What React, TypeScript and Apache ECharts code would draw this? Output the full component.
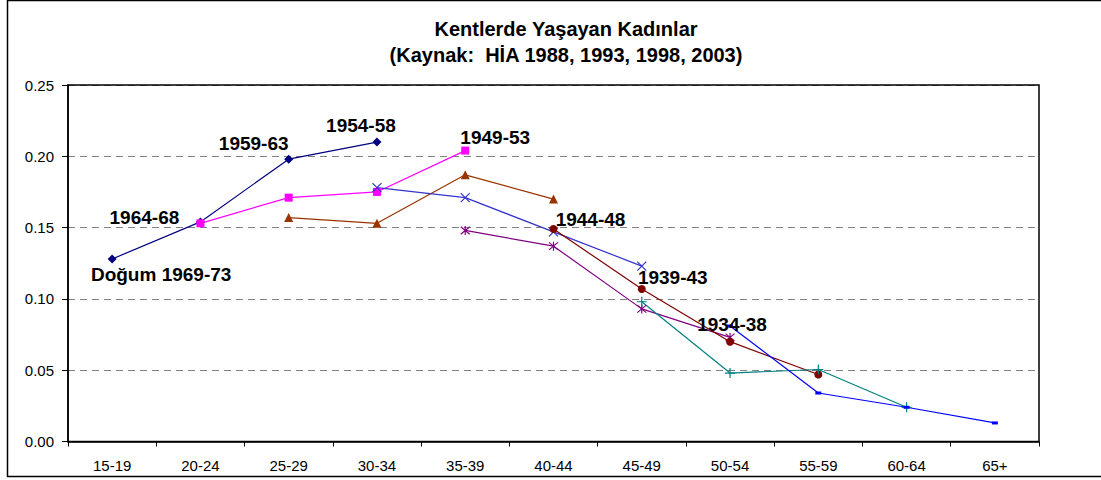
import React, { useEffect, useRef } from "react";
import * as echarts from "echarts";

const categories = ["15-19", "20-24", "25-29", "30-34", "35-39", "40-44", "45-49", "50-54", "55-59", "60-64", "65+"];
const yTicks = [0, 0.05, 0.1, 0.15, 0.2, 0.25];

const s1 = [0.128, 0.154, 0.198, 0.21, null, null, null, null, null, null, null];
const s2 = [null, 0.153, 0.171, 0.175, 0.204, null, null, null, null, null, null];
const s3 = [null, null, 0.157, 0.153, 0.187, 0.17, null, null, null, null, null];
const s4 = [null, null, null, 0.178, 0.171, 0.147, 0.123, null, null, null, null];
const s5 = [null, null, null, null, 0.148, 0.137, 0.093, 0.073, null, null, null];
const s6 = [null, null, null, null, null, 0.149, 0.107, 0.07, 0.047, null, null];
const s7 = [null, null, null, null, null, null, 0.098, 0.048, 0.0505, 0.024, null];
const s8 = [null, null, null, null, null, null, null, 0.081, 0.034, 0.024, 0.013];

// cohort labels: [series index, category index, text]
const cohortLabels: [number, number, string][] = [
  [0, 0, "Doğum 1969-73"],
  [0, 1, "1964-68"],
  [0, 2, "1959-63"],
  [0, 3, "1954-58"],
  [1, 4, "1949-53"],
  [5, 5, "1944-48"],
  [5, 6, "1939-43"],
  [5, 7, "1934-38"],
];
const labelOffsets: Record<string, [number, number]> = {
  "Doğum 1969-73": [49, 16],
  "1964-68": [-56, -4],
  "1959-63": [-35, -16],
  "1954-58": [-16, -17],
  "1949-53": [30, -13],
  "1944-48": [37, -10],
  "1939-43": [31, -11],
  "1934-38": [2, -17],
};

const X_PATH = "path://M0,0L10,10M10,0L0,10";
const STAR_PATH = "path://M0,0L10,10M10,0L0,10M5,-1L5,11";
const PLUS_PATH = "path://M5,0L5,10M0,5L10,5";

const seriesStyles = [
  { color: "#000080", symbol: "diamond", size: 9 },
  { color: "#FF00FF", symbol: "rect", size: 8 },
  { color: "#993300", symbol: "triangle", size: 9 },
  { color: "#3333CC", symbol: X_PATH, size: 9, stroke: true },
  { color: "#800080", symbol: STAR_PATH, size: 9, stroke: true },
  { color: "#800000", symbol: "circle", size: 8 },
  { color: "#008080", symbol: PLUS_PATH, size: 10, stroke: true },
  { color: "#0000FF", symbol: "rect", size: [6, 3] },
];

const allSeries = [s1, s2, s3, s4, s5, s6, s7, s8];

const GRID = { left: 68, top: 85, right: 1101 - 1039, bottom: 480 - 441.5 };

export default function App() {
  const ref = useRef<HTMLDivElement>(null);
  useEffect(() => {
    document.body.style.margin = "0";
    const chart = echarts.init(ref.current!, null, { renderer: "svg" });
    const font = "'Liberation Sans', Arial, sans-serif";
    const series = allSeries.map((arr, si) => {
      const st = seriesStyles[si];
      const data = arr.map((v, ci) => {
        const lab = cohortLabels.find((l) => l[0] === si && l[1] === ci);
        if (!lab || v === null) return v;
        return {
          value: v,
          label: {
            show: true,
            formatter: lab[2],
            position: "inside",
            offset: labelOffsets[lab[2]],
            fontSize: 19,
            fontWeight: "bold",
            color: "#000",
            fontFamily: font,
          },
        };
      });
      return {
        type: "line",
        data,
        symbol: st.symbol,
        symbolSize: st.size,
        showAllSymbol: true,
        connectNulls: false,
        lineStyle: { color: st.color, width: 1.2 },
        itemStyle: st.stroke
          ? { color: st.color, borderColor: st.color, borderWidth: 1.2 }
          : { color: st.color, borderWidth: 0 },
        emphasis: { disabled: true },
        label: { show: false },
        z: 3,
      };
    });
    chart.setOption({
      animation: false,
      backgroundColor: "#fff",
      title: {
        text: "Kentlerde Yaşayan Kadınlar\n(Kaynak:  HİA 1988, 1993, 1998, 2003)",
        left: 561,
        textAlign: "center",
        top: 11,
        textStyle: { fontSize: 20, fontWeight: "bold", fontFamily: font, color: "#000", lineHeight: 26 },
      },
      grid: GRID,
      xAxis: {
        type: "category",
        data: categories,
        boundaryGap: true,
        axisLine: { show: true, lineStyle: { color: "#000", width: 1.5 } },
        axisTick: { show: true, length: 5, lineStyle: { color: "#000" } },
        axisLabel: { color: "#000", fontSize: 15, fontFamily: font, margin: 16 },
        splitLine: { show: false },
      },
      yAxis: {
        type: "value",
        min: yTicks[0],
        max: yTicks[yTicks.length - 1],
        interval: 0.05,
        axisLine: { show: true, lineStyle: { color: "#000", width: 1.5 } },
        axisTick: { show: true, length: 6, lineStyle: { color: "#000" } },
        axisLabel: { color: "#000", fontSize: 15, fontFamily: font, margin: 14, formatter: (v: number) => v.toFixed(2) },
        splitLine: { show: true, lineStyle: { color: "#808080", type: [7, 5], width: 1 } },
      },
      graphic: [
        {
          type: "rect",
          shape: { x: GRID.left, y: GRID.top, width: 1039 - GRID.left, height: 441.5 - GRID.top },
          style: { fill: "none", stroke: "#000", lineWidth: 1.5 },
          z: 100,
          silent: true,
        },
        {
          type: "rect",
          shape: { x: 7.5, y: 0.5, width: 1110, height: 476 },
          style: { fill: "none", stroke: "#000", lineWidth: 1.5 },
          z: 100,
          silent: true,
        },
      ],
      series,
    });
    return () => chart.dispose();
  }, []);
  return <div ref={ref} style={{ position: "fixed", left: 0, top: 0, width: 1101, height: 480 }} />;
}
